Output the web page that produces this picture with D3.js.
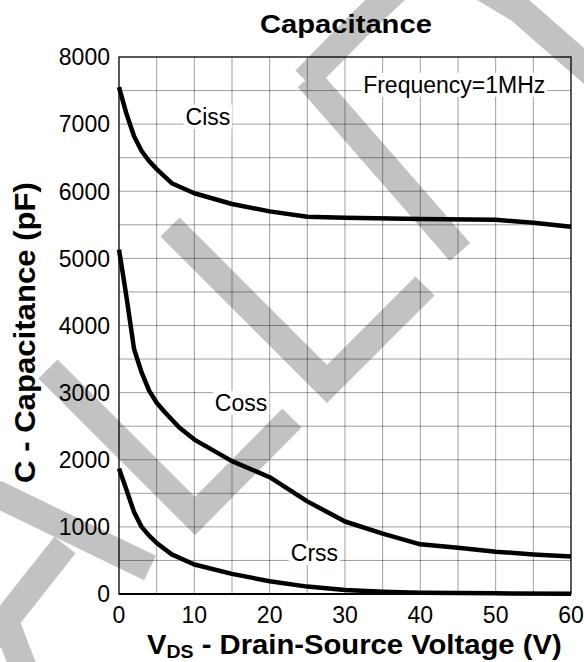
<!DOCTYPE html>
<html>
<head>
<meta charset="utf-8">
<script src="https://cdn.jsdelivr.net/npm/d3@7"></script>
<style>
  body { margin: 0; background: #fff; }
  text { font-family: "Liberation Sans", Arial, sans-serif; fill: #000; }
</style>
</head>
<body>
<svg id="chart" width="584" height="662"></svg>
<script>
// Capacitance vs drain-source voltage

const xTicks = [0, 10, 20, 30, 40, 50, 60];
const yTicks = [0, 1000, 2000, 3000, 4000, 5000, 6000, 7000, 8000];

const cissV = [0, 1, 2, 3, 4, 5, 7, 10, 15, 20, 25, 30, 40, 50, 55, 60];
const cissC = [7550, 7150, 6820, 6600, 6450, 6330, 6120, 5970, 5810, 5700, 5620, 5605, 5585, 5575, 5530, 5470];

const cossV = [0, 0.5, 1, 2, 3, 4, 5, 6, 8, 10, 15, 20, 25, 30, 35, 40, 45, 50, 55, 60];
const cossC = [5130, 4780, 4420, 3650, 3300, 3030, 2850, 2720, 2480, 2300, 1980, 1740, 1380, 1080, 900, 740, 690, 630, 590, 560];

const crssV = [0, 1, 2, 3, 4, 5, 7, 10, 15, 20, 25, 30, 35, 40, 50, 60];
const crssC = [1870, 1550, 1220, 1000, 870, 760, 590, 440, 300, 190, 110, 60, 35, 20, 10, 5];

const seriesNames = ["Ciss", "Coss", "Crss"];

const svg = d3.select("#chart");
const margin = { top: 57, right: 13, bottom: 68, left: 119 };
const width = +svg.attr("width");
const height = +svg.attr("height");
const innerWidth = width - margin.left - margin.right;
const innerHeight = height - margin.top - margin.bottom;

// grey watermark in the background (pixel coords, decoration only)
const watermark = [
  [[305, 80], [362, 22], [400, -14], [470, -20], [520, 10], [600, 80]],
  [[308, 78], [460, 252]],
  [[170, 227], [327, 384], [425, 286]],
  [[48, 369], [195, 516], [292, 418]],
  [[-5, 493], [150, 568]],
  [[65, 545], [-10, 640]],
  [[2, 612], [25, 672]]
];
svg.append("g")
  .selectAll("path")
  .data(watermark)
  .join("path")
  .attr("d", d3.line())
  .attr("fill", "none")
  .attr("stroke", "#c2c2c2")
  .attr("stroke-width", 27)
  .attr("stroke-linejoin", "miter")
  .attr("stroke-linecap", "butt");

const g = svg.append("g")
  .attr("transform", `translate(${margin.left},${margin.top})`);

const x = d3.scaleLinear().domain([0, 60]).range([0, innerWidth]);
const y = d3.scaleLinear().domain([0, 8000]).range([innerHeight, 0]);

// grid every 5 V and 500 pF
g.append("g")
  .selectAll("line")
  .data(d3.range(5, 60, 5))
  .join("line")
  .attr("x1", d => x(d)).attr("x2", d => x(d))
  .attr("y1", 0).attr("y2", innerHeight)
  .attr("stroke", "#000").attr("stroke-opacity", 0.38).attr("stroke-width", 1);

g.append("g")
  .selectAll("line")
  .data(d3.range(500, 8000, 500))
  .join("line")
  .attr("x1", 0).attr("x2", innerWidth)
  .attr("y1", d => y(d)).attr("y2", d => y(d))
  .attr("stroke", "#000").attr("stroke-opacity", 0.38).attr("stroke-width", 1);

// frame
g.append("rect")
  .attr("width", innerWidth).attr("height", innerHeight)
  .attr("fill", "none").attr("stroke", "#000").attr("stroke-width", 1.3);
g.append("line")
  .attr("x1", 0).attr("x2", innerWidth)
  .attr("y1", innerHeight).attr("y2", innerHeight)
  .attr("stroke", "#000").attr("stroke-width", 2);

// tick labels
g.append("g")
  .selectAll("text")
  .data(yTicks)
  .join("text")
  .attr("x", -9)
  .attr("y", d => y(d))
  .attr("dy", "0.36em")
  .attr("text-anchor", "end")
  .attr("font-size", 23)
  .text(d => d);

g.append("g")
  .selectAll("text")
  .data(xTicks)
  .join("text")
  .attr("x", d => x(d))
  .attr("y", innerHeight + 29)
  .attr("text-anchor", "middle")
  .attr("font-size", 23)
  .text(d => d);

// curves
const line = d3.line().x(d => x(d[0])).y(d => y(d[1]));
const curves = [
  d3.zip(cissV, cissC),
  d3.zip(cossV, cossC),
  d3.zip(crssV, crssC)
];
g.append("g")
  .selectAll("path")
  .data(curves)
  .join("path")
  .attr("d", line)
  .attr("fill", "none")
  .attr("stroke", "#000")
  .attr("stroke-width", 4.5)
  .attr("stroke-linejoin", "round");

// labels with white boxes
const labels = [
  { text: seriesNames[0], v: 11.8, c: 6990 },
  { text: "Frequency=1MHz", v: 44.5, c: 7466 },
  { text: seriesNames[1], v: 16.2, c: 2727 },
  { text: seriesNames[2], v: 25.95, c: 492 }
];
labels.forEach(l => {
  const t = g.append("text")
    .attr("x", x(l.v))
    .attr("y", y(l.c))
    .attr("text-anchor", "middle")
    .attr("font-size", 23)
    .text(l.text);
  const b = t.node().getBBox();
  g.insert("rect", () => t.node())
    .attr("x", b.x - 2).attr("y", b.y + 1)
    .attr("width", b.width + 4).attr("height", b.height - 2)
    .attr("fill", "#fff");
});

// stretch a text element horizontally to fit a width
function fit(sel, x0, w) {
  const b = sel.node().getBBox();
  const s = w / b.width;
  return `translate(${x0},0) scale(${s},1) translate(${-b.x},0)`;
}

// title
const title = svg.append("text")
  .attr("y", 33)
  .attr("font-size", 26)
  .attr("font-weight", "bold")
  .text("Capacitance");
title.attr("transform", fit(title, 260, 172));

// x axis title
const xt = svg.append("text")
  .attr("y", 654)
  .attr("font-size", 27)
  .attr("font-weight", "bold");
xt.append("tspan").text("V");
xt.append("tspan").attr("font-size", 18).attr("dy", 4).text("DS");
xt.append("tspan").attr("dy", -4).text(" - Drain-Source Voltage (V)");
xt.attr("transform", fit(xt, 147, 415));

// y axis title
const yt = svg.append("text")
  .attr("font-size", 29)
  .attr("font-weight", "bold")
  .text("C - Capacitance (pF)");
const yb = yt.node().getBBox();
yt.attr("transform", `translate(35,483) rotate(-90) scale(${301 / yb.width},1) translate(${-yb.x},0)`);
</script>
</body>
</html>
